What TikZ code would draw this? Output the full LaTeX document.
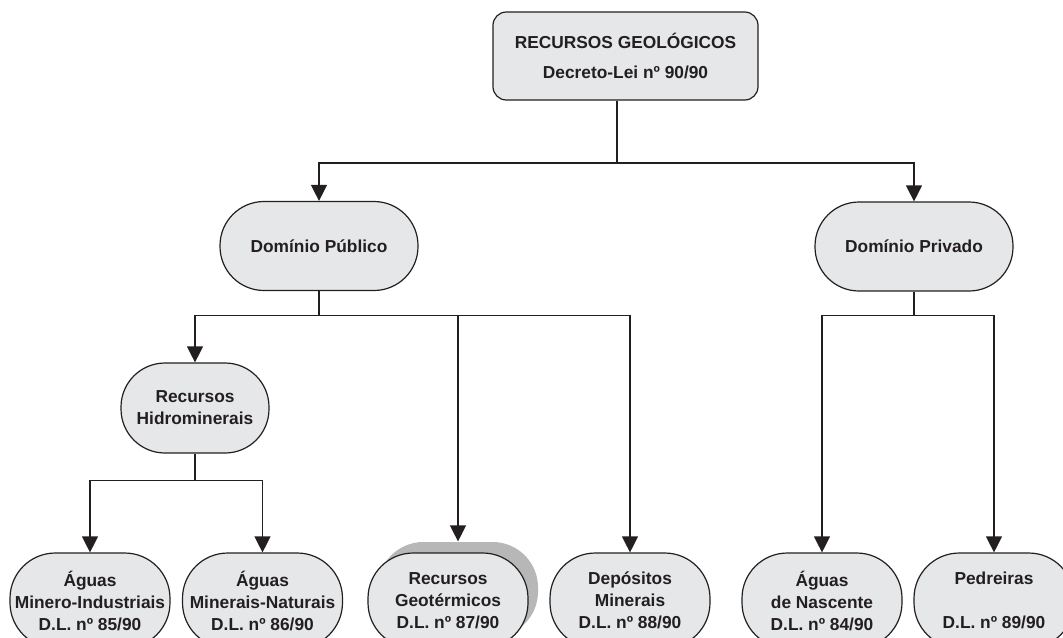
\documentclass[tikz,border=0pt]{standalone}
\usepackage{fontspec}
\setmainfont{Liberation Sans}
\usepackage{xcolor}
\definecolor{BoxFill}{RGB}{230,231,232}
\definecolor{LineColor}{RGB}{35,31,32}
\definecolor{ShadowColor}{RGB}{183,183,183}
\usetikzlibrary{arrows.meta}

\begin{document}
\begin{tikzpicture}[
    x=0.75pt, y=-0.75pt,
    basebox/.style={rectangle, draw=LineColor, fill=BoxFill, line width=0.9pt, align=center, inner sep=1pt, text=LineColor, font=\fontsize{13}{16.5}\selectfont\bfseries},
    lawbox/.style={basebox, rounded corners=10pt, minimum width=198.75pt, minimum height=66pt, font=\fontsize{13}{23}\selectfont\bfseries},
    realmbox/.style={basebox, rounded corners=33pt, minimum width=148.5pt, minimum height=66.75pt},
    groupbox/.style={basebox, rounded corners=33pt, minimum width=111pt, minimum height=67.5pt},
    leafbox/.style={basebox, rounded corners=34pt, minimum width=120pt, minimum height=71.25pt},
    arrow/.style={-{Triangle[length=12pt, width=12pt]}, line width=0.9pt, draw=LineColor},
    link/.style={line width=0.9pt, draw=LineColor},
]
\clip (0,0) rectangle (1063,637);

% Top
\node[lawbox] (geo) at (625.5,56) {RECURSOS GEOLÓGICOS\\Decreto-Lei nº 90/90};

% Domains
\node[realmbox] (pub) at (319,246) {Domínio Público};
\node[realmbox] (priv) at (914,246.5) {Domínio Privado};

% Hydromineral group
\node[groupbox] (hidro) at (195,408) {Recursos\\Hidrominerais};

% Leaves
\node[leafbox] (mi) at (90,600.5) {Águas\\Minero-Industriais\\D.L. nº 85/90};
\node[leafbox] (mn) at (262.5,600.5) {Águas\\Minerais-Naturais\\D.L. nº 86/90};
\node[leafbox, fill=ShadowColor, draw=none] (geotshadow) at (458,589.5) {};
\node[leafbox] (geot) at (448,600.5) {Recursos\\Geotérmicos\\D.L. nº 87/90};
\node[leafbox] (dep) at (630,600.5) {Depósitos\\Minerais\\D.L. nº 88/90};
\node[leafbox] (nas) at (822,600.5) {Águas\\de Nascente\\D.L. nº 84/90};
\node[leafbox] (ped) at (994,600.5) {Pedreiras\\[16.5pt]D.L. nº 89/90};

% Junctions
\coordinate (geoj) at (617,163);
\draw[link] (geo.south -| geoj) -- (geoj);
\draw[link] (pub.south) -- ++(0,24) coordinate (pubj);
\draw[link] (priv.south) -- ++(0,24) coordinate (privj);
\draw[link] (hidro.south) -- ++(0,27) coordinate (hidroj);

% Arrows
\draw[arrow] (geoj) -| (pub);
\draw[arrow] (geoj) -| (priv);
\draw[arrow] (pubj) -| (hidro);
\draw[arrow] (pubj) -| (geotshadow);
\draw[arrow] (pubj) -| (dep);
\draw[arrow] (privj) -| (nas);
\draw[arrow] (privj) -| (ped);
\draw[arrow] (hidroj) -| (mi);
\draw[arrow] (hidroj) -| (mn);

\end{tikzpicture}
\end{document}
